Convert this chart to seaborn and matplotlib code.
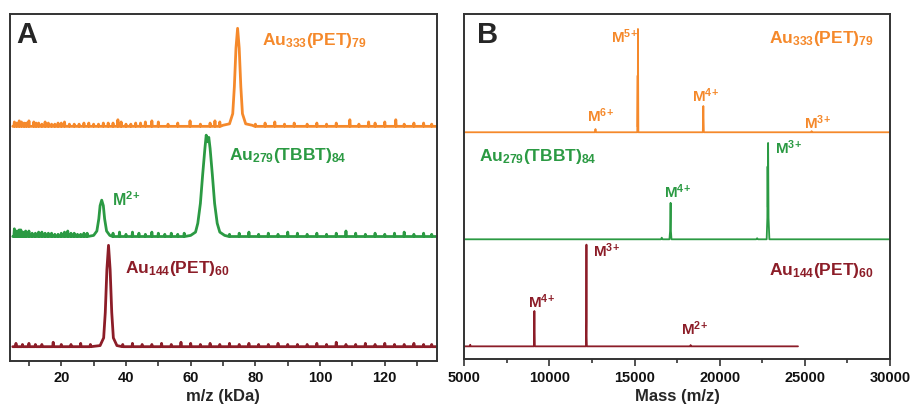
import pandas as pd
import seaborn as sns
import matplotlib.pyplot as plt
from matplotlib.ticker import MultipleLocator

# Colours of the three clusters
c_orange = '#F5892B'
c_green = '#2B9A43'
c_red = '#8C1D28'

# ---- Panel A: m/z in kDa, peaks (height in units of trace spacing)
orange_a_x = [70, 72, 73, 73.5, 74.0, 74.5, 75.0, 75.5, 76, 77, 79]
orange_a_y = [0.01, 0.023, 0.115, 0.36, 0.71, 0.89, 0.71, 0.36, 0.115, 0.023, 0.01]
green_a_x = [30, 31, 31.6, 32.0, 32.5, 33.0, 33.4, 34, 35,
             60, 61.5, 62.2, 63, 63.7, 64.4, 64.8, 65.2, 65.6, 66, 66.7, 67.4, 68.2, 69, 70.5]
green_a_y = [0.01, 0.05, 0.16, 0.28, 0.33, 0.28, 0.16, 0.05, 0.01,
             0.01, 0.04, 0.12, 0.30, 0.56, 0.80, 0.92, 0.86, 0.90, 0.80, 0.56, 0.30, 0.12, 0.04, 0.01]
red_a_x = [32, 33.1, 33.6, 34.1, 34.6, 35.1, 35.6, 36.1, 37.2]
red_a_y = [0.01, 0.08, 0.31, 0.70, 0.92, 0.70, 0.31, 0.08, 0.01]

# small baseline spikes (position, height)
orange_noise_x = [5.5, 6.2, 7, 7.7, 8.5, 9.2, 10, 11.5, 12.2, 13, 14, 15, 16, 17, 18, 19, 20, 21,
                  22.5, 24, 25.5, 27, 28.5, 30, 31.5, 33, 34.5, 36, 37.5, 38.5, 40, 41.5, 43, 44.5, 46,
                  48, 50, 53, 56, 59.8, 63, 66, 67.5, 69, 80, 83, 86, 89, 92, 96, 99, 102, 105, 109.2,
                  112, 115, 117, 120, 123.4, 126, 129, 132, 134.5]
orange_noise_y = [0.04, 0.03, 0.05, 0.04, 0.03, 0.03, 0.05, 0.04, 0.03, 0.03, 0.02, 0.04, 0.03, 0.02,
                  0.02, 0.03, 0.03, 0.04, 0.02, 0.02, 0.02, 0.03, 0.03, 0.02, 0.02, 0.03, 0.03, 0.03,
                  0.06, 0.04, 0.02, 0.02, 0.03, 0.03, 0.04, 0.05, 0.04, 0.02, 0.03, 0.05, 0.02, 0.03,
                  0.05, 0.04, 0.02, 0.03, 0.04, 0.02, 0.03, 0.02, 0.03, 0.02, 0.03, 0.06, 0.02, 0.04,
                  0.03, 0.04, 0.06, 0.02, 0.03, 0.03, 0.02]
green_noise_x = [5.5, 6, 6.5, 7, 7.5, 8, 8.5, 9, 10, 11, 12, 13, 14, 15, 16, 17, 18, 19, 20, 21, 22,
                 23, 24, 25, 26, 27, 28, 36, 38, 40, 42, 44, 46, 48, 50, 52, 54, 56, 58, 72, 75, 78, 81,
                 84, 87, 90, 93, 96, 99, 102, 105, 108, 111, 114, 117, 120, 123, 126, 129, 132, 134.5]
green_noise_y = [0.07, 0.05, 0.05, 0.06, 0.06, 0.04, 0.04, 0.05, 0.05, 0.03, 0.03, 0.04, 0.04, 0.03,
                 0.03, 0.03, 0.02, 0.02, 0.03, 0.04, 0.05, 0.03, 0.03, 0.02, 0.02, 0.03, 0.03, 0.03,
                 0.04, 0.02, 0.04, 0.03, 0.02, 0.04, 0.03, 0.02, 0.03, 0.02, 0.03, 0.02, 0.03, 0.04,
                 0.02, 0.03, 0.02, 0.04, 0.03, 0.02, 0.03, 0.02, 0.03, 0.05, 0.03, 0.02, 0.03, 0.02,
                 0.03, 0.04, 0.02, 0.03, 0.02]
red_noise_x = [6, 8, 10, 12, 14, 17.5, 20, 23, 26, 29, 39, 42, 45, 48, 51, 54, 57, 60, 63, 66,
               69, 72, 75, 78, 81, 84, 87, 90, 93, 96, 99, 102, 105, 108, 111, 114, 117, 120, 123, 126,
               129, 132, 134.5]
red_noise_y = [0.03, 0.02, 0.03, 0.02, 0.02, 0.04, 0.02, 0.02, 0.03, 0.02, 0.02, 0.03, 0.02, 0.02, 0.03,
               0.02, 0.04, 0.03, 0.02, 0.03, 0.02, 0.03, 0.02, 0.03, 0.02, 0.02, 0.03, 0.02, 0.02, 0.02,
               0.03, 0.02, 0.04, 0.02, 0.02, 0.03, 0.02, 0.03, 0.02, 0.02, 0.03, 0.02, 0.02]

# ---- Panel B: mass (m/z) spectra
orange_b_x = [5000, 12680, 12706, 12730, 15160, 15185, 15192, 15200, 15225, 19010, 19040, 19070,
              25380, 25400, 25420, 30000]
orange_b_y = [0, 0, 0.03, 0, 0, 0.53, 0.05, 0.965, 0, 0, 0.245, 0, 0, 0.01, 0, 0]
green_b_x = [5000, 16550, 16600, 16650, 17050, 17090, 17105, 17118, 17135, 17170, 22150, 22200, 22250,
             22760, 22800, 22815, 22830, 22845, 22870, 22920, 30000]
green_b_y = [0, 0, 0.015, 0, 0, 0.08, 0.2, 0.34, 0.08, 0, 0, 0.01, 0, 0, 0.2, 0.68, 0.3, 0.90, 0.2, 0, 0]
red_b_x = [5000, 5330, 5350, 5370, 9090, 9118, 9145, 12150, 12165, 12176, 12185, 12200, 18270, 18294,
           18320, 24600]
red_b_y = [0, 0, 0.015, 0, 0, 0.33, 0, 0, 0.23, 0.95, 0.1, 0, 0, 0.012, 0, 0]

offsets = {'red': 0, 'green': 1, 'orange': 2}

sns.set_style('ticks')
plt.rcParams['font.family'] = ['Liberation Sans', 'DejaVu Sans']
plt.rcParams['font.weight'] = 'bold'
plt.rcParams['axes.labelweight'] = 'bold'
plt.rcParams['mathtext.fontset'] = 'custom'
plt.rcParams['mathtext.rm'] = 'Liberation Sans:bold'
plt.rcParams['mathtext.it'] = 'Liberation Sans:bold'
plt.rcParams['mathtext.bf'] = 'Liberation Sans:bold'
plt.rcParams['mathtext.default'] = 'bf'


def spectrum_a(peak_x, peak_y, noise_x, noise_y, offset):
    xs = [5.0, 136.0] + list(peak_x)
    ys = [0.0, 0.0] + list(peak_y)
    for x, h in zip(noise_x, noise_y, strict=True):
        xs += [x - 0.15, x, x + 0.15]
        ys += [0.0, h, 0.0]
    df = pd.DataFrame({'x': xs, 'y': ys}).sort_values('x')
    df['y'] = df['y'] + offset
    return df


def spectrum_b(xs, ys, offset):
    df = pd.DataFrame({'x': xs, 'y': ys})
    df['y'] = df['y'] + offset
    return df


fig = plt.figure(figsize=(9.15, 4.14), dpi=100)
axA = fig.add_axes([0.0104, 0.1256, 0.4667, 0.8382])
axB = fig.add_axes([0.5074, 0.1300, 0.4652, 0.8338])

traces_a = [
    (spectrum_a(orange_a_x, orange_a_y, orange_noise_x, orange_noise_y, offsets['orange']), c_orange),
    (spectrum_a(green_a_x, green_a_y, green_noise_x, green_noise_y, offsets['green']), c_green),
    (spectrum_a(red_a_x, red_a_y, red_noise_x, red_noise_y, offsets['red']), c_red),
]
for df, col in traces_a:
    sns.lineplot(data=df, x='x', y='y', ax=axA, color=col, lw=2.0, estimator=None, sort=False)

traces_b = [
    (spectrum_b(orange_b_x, orange_b_y, offsets['orange']), c_orange),
    (spectrum_b(green_b_x, green_b_y, offsets['green']), c_green),
    (spectrum_b(red_b_x, red_b_y, offsets['red']), c_red),
]
for df, col in traces_b:
    sns.lineplot(data=df, x='x', y='y', ax=axB, color=col, lw=1.3, estimator=None, sort=False)

axA.set_xlim(4, 136)
axA.set_ylim(-0.13, 3.02)
axB.set_xlim(5000, 30000)
axB.set_ylim(-0.12, 3.105)

axA.xaxis.set_major_locator(MultipleLocator(20))
axA.xaxis.set_minor_locator(MultipleLocator(10))
axB.xaxis.set_major_locator(MultipleLocator(5000))
axB.xaxis.set_minor_locator(MultipleLocator(2500))

for ax in (axA, axB):
    ax.set_yticks([])
    ax.set_ylabel('')
    for s in ax.spines.values():
        s.set_visible(True)
        s.set_linewidth(1.4)
        s.set_color('#333333')
    ax.tick_params(axis='x', which='both', direction='out', width=1.2, color='#333333',
                   labelsize=10.5, labelcolor='#111111', pad=3)
axA.tick_params(axis='x', which='both', length=3.5)
axB.tick_params(axis='x', which='major', length=5)
axB.tick_params(axis='x', which='minor', length=3)

axA.set_xlabel('m/z (kDa)', fontsize=12, labelpad=3)
axB.set_xlabel('Mass (m/z)', fontsize=12, labelpad=3)

axA.text(0.017, 0.918, 'A', transform=axA.transAxes, fontsize=21, ha='left', va='baseline')
axB.text(0.029, 0.918, 'B', transform=axB.transAxes, fontsize=21, ha='left', va='baseline')

lab = dict(ha='left', va='baseline')
axA.text(81.9, 2.748, r'Au$_{333}$(PET)$_{79}$', color=c_orange, fontsize=12.5, **lab)
axA.text(71.9, 1.704, r'Au$_{279}$(TBBT)$_{84}$', color=c_green, fontsize=12.5, **lab)
axA.text(35.7, 1.286, r'M$^{2\!+}$', color=c_green, fontsize=11.5, **lab)
axA.text(39.8, 0.675, r'Au$_{144}$(PET)$_{60}$', color=c_red, fontsize=12.5, **lab)

axB.text(22900, 2.840, r'Au$_{333}$(PET)$_{79}$', color=c_orange, fontsize=12.5, **lab)
axB.text(13629, 2.846, r'M$^{5\!+}$', color=c_orange, fontsize=11, **lab)
axB.text(12218, 2.108, r'M$^{6\!+}$', color=c_orange, fontsize=11, **lab)
axB.text(18371, 2.295, r'M$^{4\!+}$', color=c_orange, fontsize=11, **lab)
axB.text(24941, 2.036, r'M$^{3\!+}$', color=c_orange, fontsize=11, **lab)
axB.text(5843, 1.740, r'Au$_{279}$(TBBT)$_{84}$', color=c_green, fontsize=12.5, **lab)
axB.text(23276, 1.806, r'M$^{3\!+}$', color=c_green, fontsize=11, **lab)
axB.text(16724, 1.391, r'M$^{4\!+}$', color=c_green, fontsize=11, **lab)
axB.text(22900, 0.675, r'Au$_{144}$(PET)$_{60}$', color=c_red, fontsize=12.5, **lab)
axB.text(12588, 0.840, r'M$^{3\!+}$', color=c_red, fontsize=11, **lab)
axB.text(8724, 0.363, r'M$^{4\!+}$', color=c_red, fontsize=11, **lab)
axB.text(17747, 0.114, r'M$^{2\!+}$', color=c_red, fontsize=11, **lab)

fig.savefig('out.png', dpi=100)
